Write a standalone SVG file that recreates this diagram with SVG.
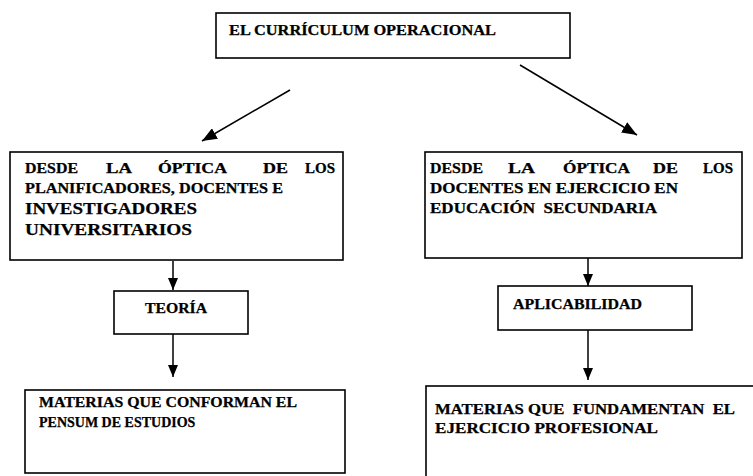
<svg xmlns="http://www.w3.org/2000/svg" width="753" height="476" viewBox="0 0 753 476">
<defs>
<style>
.box{fill:#fff;stroke:#000;stroke-width:1.6}
.t{font-family:"Liberation Serif","DejaVu Serif","Times New Roman",serif;font-weight:bold;font-size:14px;fill:#000;stroke:#000;stroke-width:0.25}
.big{font-size:17.5px}
.top{font-size:15px}
.ln{stroke:#000;stroke-width:1.5;fill:none}
</style>
<marker id="ah" viewBox="0 0 12 10" refX="12" refY="5" markerWidth="12" markerHeight="10" markerUnits="userSpaceOnUse" orient="auto">
<path d="M0,0 L12,5 L0,10 Z" fill="#000"/>
</marker>
<marker id="ahd" viewBox="0 0 15 12" refX="15" refY="6" markerWidth="15" markerHeight="12" markerUnits="userSpaceOnUse" orient="auto">
<path d="M0,0 L15,6 L0,12 Z" fill="#000"/>
</marker>
</defs>
<rect width="753" height="476" fill="#fff"/>
<g id="connectors">
<line class="ln" x1="290" y1="90" x2="202" y2="141" marker-end="url(#ahd)"/>
<line class="ln" x1="520" y1="65" x2="637" y2="135" marker-end="url(#ahd)"/>
<line class="ln" x1="173" y1="261" x2="173" y2="290" marker-end="url(#ah)"/>
<line class="ln" x1="173" y1="334" x2="173" y2="377" marker-end="url(#ah)"/>
<line class="ln" x1="588" y1="258" x2="588" y2="286" marker-end="url(#ah)"/>
<line class="ln" x1="588" y1="330" x2="588" y2="380" marker-end="url(#ah)"/>
</g>
<g id="top">
<rect class="box" x="216" y="13" width="354" height="45"/>
<text class="t top" x="229" y="35" textLength="267" lengthAdjust="spacingAndGlyphs">EL CURRÍCULUM OPERACIONAL</text>
</g>
<g id="left">
<rect class="box" x="10" y="152" width="333" height="108"/>
<text class="t" x="25" y="173" textLength="53" lengthAdjust="spacingAndGlyphs">DESDE</text>
<text class="t" x="106" y="173" textLength="26" lengthAdjust="spacingAndGlyphs">LA</text>
<text class="t" x="158" y="173" textLength="69" lengthAdjust="spacingAndGlyphs">ÓPTICA</text>
<text class="t" x="263" y="173" textLength="25" lengthAdjust="spacingAndGlyphs">DE</text>
<text class="t" x="305" y="173" textLength="30" lengthAdjust="spacingAndGlyphs">LOS</text>
<text class="t" x="25" y="193" textLength="258" lengthAdjust="spacingAndGlyphs">PLANIFICADORES, DOCENTES E</text>
<text class="t big" x="25" y="214" textLength="172" lengthAdjust="spacingAndGlyphs">INVESTIGADORES</text>
<text class="t big" x="25" y="235" textLength="167" lengthAdjust="spacingAndGlyphs">UNIVERSITARIOS</text>
</g>
<g id="right">
<rect class="box" x="425" y="152" width="317" height="106"/>
<text class="t" x="430" y="173" textLength="53" lengthAdjust="spacingAndGlyphs">DESDE</text>
<text class="t" x="508" y="173" textLength="27" lengthAdjust="spacingAndGlyphs">LA</text>
<text class="t" x="563" y="173" textLength="67" lengthAdjust="spacingAndGlyphs">ÓPTICA</text>
<text class="t" x="653" y="173" textLength="25" lengthAdjust="spacingAndGlyphs">DE</text>
<text class="t" x="703" y="173" textLength="30" lengthAdjust="spacingAndGlyphs">LOS</text>
<text class="t" x="430" y="193" textLength="248" lengthAdjust="spacingAndGlyphs">DOCENTES EN EJERCICIO EN</text>
<text class="t" x="430" y="213" textLength="227" lengthAdjust="spacingAndGlyphs" xml:space="preserve">EDUCACIÓN  SECUNDARIA</text>
</g>
<g id="teoria">
<rect class="box" x="114" y="291" width="134" height="43"/>
<text class="t" x="145" y="313" textLength="62" lengthAdjust="spacingAndGlyphs">TEORÍA</text>
</g>
<g id="aplicabilidad">
<rect class="box" x="498" y="286" width="194" height="44"/>
<text class="t" x="513" y="309" textLength="129" lengthAdjust="spacingAndGlyphs">APLICABILIDAD</text>
</g>
<g id="materias-left">
<rect class="box" x="25" y="390" width="320" height="83"/>
<text class="t" x="39" y="407" textLength="258" lengthAdjust="spacingAndGlyphs">MATERIAS QUE CONFORMAN EL</text>
<text class="t" x="39" y="427">PENSUM DE ESTUDIOS</text>
</g>
<g id="materias-right">
<rect class="box" x="426" y="386" width="340" height="100"/>
<text class="t" x="435" y="414" textLength="300" lengthAdjust="spacingAndGlyphs" xml:space="preserve">MATERIAS QUE  FUNDAMENTAN  EL</text>
<text class="t" x="435" y="433" textLength="223" lengthAdjust="spacingAndGlyphs">EJERCICIO PROFESIONAL</text>
</g>
</svg>
